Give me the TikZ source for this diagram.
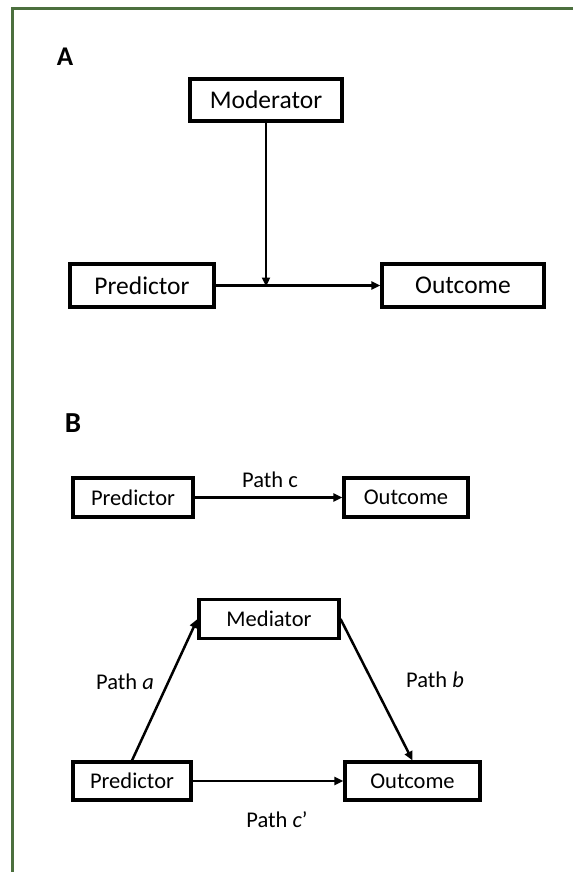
\documentclass[tikz,border=0pt]{standalone}
\usepackage{fontspec}
\setmainfont{Carlito}
\usetikzlibrary{arrows.meta}
\definecolor{frame}{RGB}{76,112,62}
\begin{document}
\begin{tikzpicture}[x=1pt,y=-1pt,
  boxA/.style={draw,line width=3.4pt,inner sep=0pt,font=\fontsize{25.5}{30}\selectfont},
  boxB/.style={draw,line width=3.1pt,inner sep=0pt,font=\fontsize{22.5}{26}\selectfont},
  lbl/.style={inner sep=0pt,font=\fontsize{22.5}{26}\selectfont},
  panel/.style={inner sep=0pt,font=\bfseries\fontsize{27}{32}\selectfont},
  arr/.style={line width=2.5pt,-{Triangle[length=9pt,width=8pt]}}]
\useasboundingbox (0,0) rectangle (573,872);
\draw[frame,line width=2.8pt] (12.5,872) -- (12.5,8.5) -- (573,8.5);
% Panel A
\node[panel] (labA) at (65,57) {A};
\node[boxA,minimum width=152pt,minimum height=42pt] (mod) at (266,100) {Moderator};
\node[boxA,minimum width=144pt,minimum height=43pt] (predA) at (142,285.5) {Predictor};
\node[boxA,minimum width=162pt,minimum height=43pt] (outA) at (463,285.5) {Outcome};
\draw[arr] (predA.east) -- (outA.west);
\coordinate (join) at (mod.south |- predA.east);
\draw[arr] (mod.south) -- ([yshift=-1pt]join);
% Panel B
\node[panel,font=\bfseries\fontsize{29}{34}\selectfont] (labB) at (73,423) {B};
\node[boxB,minimum width=120pt,minimum height=39pt] (predB1) at (133,497.5) {Predictor};
\node[boxB,minimum width=124pt,minimum height=39pt] (outB1) at (406,497.5) {Outcome};
\draw[arr] (predB1.east) -- (outB1.west);
\node[lbl] (pc) at (270,480) {Path c};
\node[boxB,minimum width=140pt,minimum height=39pt] (med) at (269,619) {Mediator};
\node[boxB,minimum width=118pt,minimum height=38pt] (predB2) at (132,781) {Predictor};
\node[boxB,minimum width=135pt,minimum height=38pt] (outB2) at (412.5,781) {Outcome};
\draw[arr] (predB2.north) -- (med.west);
\draw[arr] (med.east) -- (outB2.north);
\draw[arr] (predB2.east) -- (outB2.west);
\node[lbl] (pa) at (125,682) {Path \textit{a}};
\node[lbl] (pb) at (435,680) {Path \textit{b}};
\node[lbl] (pcp) at (277,820) {Path \textit{c}’};
\end{tikzpicture}
\end{document}
